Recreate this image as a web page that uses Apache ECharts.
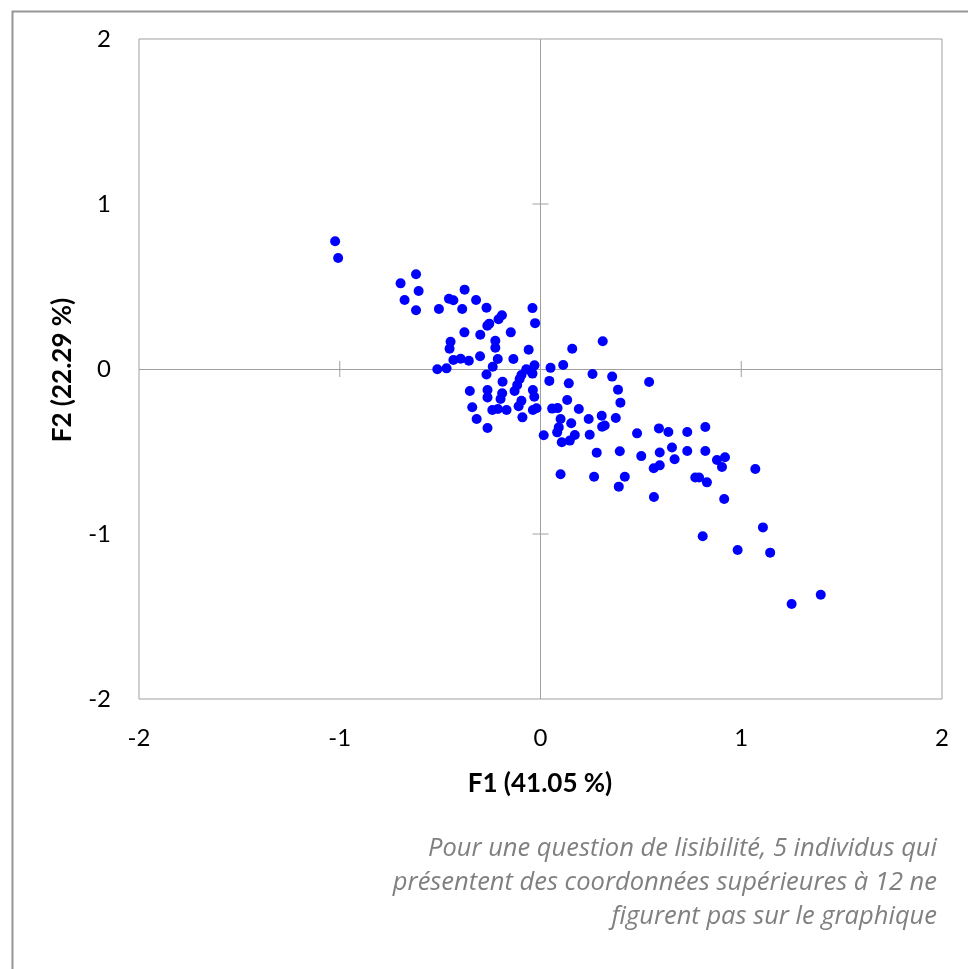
<!DOCTYPE html>
<html>
<head>
<meta charset="utf-8">
<script src="https://cdn.jsdelivr.net/npm/echarts@6/dist/echarts.min.js"></script>
<style>
html,body{margin:0;padding:0;background:#fff;}
#chart{width:968px;height:969px;}
</style>
</head>
<body>
<div id="chart"></div>
<script>
// F1 coordinates of the individuals
const f1 = [
  -1.023, -1.008, -0.697, -0.620, -0.607, -0.677, -0.620, -0.506, -0.378, -0.456,
  -0.434, -0.390, -0.321, -0.269, -0.192, -0.209, -0.255, -0.265, -0.040, -0.027,
  -0.379, -0.300, -0.148, -0.448, -0.453, -0.225, -0.225, -0.059, -0.301, -0.135,
  -0.213, -0.434, -0.398, -0.357, -0.514, -0.468, -0.238, -0.269, -0.030, -0.071,
  -0.040, -0.045, 0.050, 0.113, 0.158, 0.310,
  -0.352, -0.340, -0.318, -0.264, -0.264, -0.264, -0.240, -0.212, -0.189, -0.191,
  -0.199, -0.169, -0.129, -0.116, -0.104, -0.095, -0.109, -0.095, -0.090, -0.038,
  -0.031, -0.038, -0.020, 0.044, 0.016, 0.058, 0.085, 0.100, 0.091, 0.083,
  0.106, 0.146, 0.141, 0.259, 0.357, 0.541, 0.386, 0.398, 0.133, 0.191,
  0.240, 0.305, 0.375, 0.153, 0.307, 0.320, 0.171, 0.245, 0.481, 0.590,
  0.637, 0.655, 0.668, 0.594, 0.502, 0.395, 0.280, 0.564, 0.594, 0.100,
  0.267, 0.420, 0.731, 0.821, 0.731, 0.821, 0.879, 0.919, 0.904, 1.070,
  0.390, 0.771, 0.790, 0.829, 0.565, 0.915, 1.108, 0.808, 0.982, 1.144,
  1.396, 1.251
];
// F2 coordinates of the individuals
const f2 = [
  0.774, 0.673, 0.519, 0.574, 0.473, 0.418, 0.356, 0.364, 0.481, 0.426,
  0.417, 0.364, 0.418, 0.371, 0.326, 0.301, 0.275, 0.262, 0.369, 0.278,
  0.222, 0.208, 0.222, 0.165, 0.123, 0.171, 0.129, 0.117, 0.077, 0.061,
  0.061, 0.055, 0.062, 0.050, -0.002, 0.004, 0.014, -0.033, 0.022, -0.002,
  -0.028, -0.016, 0.007, 0.024, 0.123, 0.168,
  -0.133, -0.232, -0.303, -0.358, -0.127, -0.172, -0.248, -0.242, -0.077, -0.147,
  -0.182, -0.248, -0.133, -0.097, -0.061, -0.036, -0.226, -0.192, -0.293, -0.127,
  -0.168, -0.248, -0.238, -0.072, -0.402, -0.240, -0.237, -0.303, -0.354, -0.384,
  -0.444, -0.434, -0.087, -0.030, -0.046, -0.079, -0.125, -0.204, -0.188, -0.242,
  -0.303, -0.283, -0.297, -0.329, -0.350, -0.342, -0.400, -0.398, -0.390, -0.360,
  -0.382, -0.476, -0.547, -0.506, -0.528, -0.498, -0.507, -0.602, -0.584, -0.638,
  -0.653, -0.653, -0.382, -0.352, -0.497, -0.497, -0.552, -0.535, -0.594, -0.606,
  -0.713, -0.658, -0.658, -0.687, -0.776, -0.788, -0.960, -1.014, -1.097, -1.113,
  -1.368, -1.424
];
const axisTicks = [-2, -1, 0, 1, 2];
const xTitle = 'F1 (41.05 %)';
const yTitle = 'F2 (22.29 %)';
const note = ['Pour une question de lisibilité, 5 individus qui',
              'présentent des coordonnées supérieures à 12 ne',
              'figurent pas sur le graphique'];

const points = f1.map((v, i) => [v, f2[i]]);
const FONT = 'Lato, "Open Sans", sans-serif';
const axisMin = axisTicks[0], axisMax = axisTicks[axisTicks.length - 1];
const step = axisTicks[1] - axisTicks[0];
const innerTicks = axisTicks.filter(v => v !== 0 && v !== axisMin && v !== axisMax);
// tick crosses on the zero axes: [value, dimension]
const tickMarks = [];
innerTicks.forEach(v => { tickMarks.push([v, 0]); tickMarks.push([v, 1]); });

const GREY = '#a0a0a0';

function labelAxis(dim) {
  return {
    type: 'value', min: axisMin, max: axisMax, interval: step,
    position: dim === 'x' ? 'bottom' : 'left',
    axisLine: { show: false, onZero: false },
    axisTick: { show: false },
    splitLine: { show: false },
    axisLabel: { fontFamily: FONT, fontSize: 24, color: '#000', margin: dim === 'x' ? 27 : 28 }
  };
}

const chart = echarts.init(document.getElementById('chart'), null, { renderer: 'canvas' });
chart.setOption({
  animation: false,
  backgroundColor: '#fff',
  grid: { left: 139, right: 26, top: 39, bottom: 270, show: true, borderColor: GREY, borderWidth: 1, containLabel: false },
  xAxis: [labelAxis('x')],
  yAxis: [labelAxis('y')],
  series: [
    {
      type: 'scatter',
      data: points,
      symbol: 'circle',
      symbolSize: 10,
      itemStyle: { color: '#0000ff', opacity: 1 },
      z: 5,
      markLine: {
        silent: true, symbol: 'none', label: { show: false },
        lineStyle: { color: GREY, width: 1, type: 'solid' },
        data: [{ xAxis: 0 }, { yAxis: 0 }],
        z: 1
      }
    },
    {
      type: 'custom',
      data: tickMarks,
      silent: true,
      z: 2,
      renderItem: function (params, api) {
        const v = api.value(0), d = api.value(1);
        const p = d === 0 ? api.coord([v, 0]) : api.coord([0, v]);
        const L = 8;
        const shape = d === 0
          ? { x1: p[0], y1: p[1] - L, x2: p[0], y2: p[1] + L }
          : { x1: p[0] - L, y1: p[1], x2: p[0] + L, y2: p[1] };
        return { type: 'line', shape: shape, style: { stroke: GREY, lineWidth: 1 } };
      }
    }
  ],
  graphic: [
    { type: 'rect', left: 10, top: 9, shape: { width: 980, height: 980 },
      style: { fill: 'none', stroke: '#959595', lineWidth: 2 }, silent: true, z: -1 },
    { type: 'text', x: 540, y: 784,
      style: { text: xTitle, font: 'bold 26px ' + FONT, fill: '#000', textAlign: 'center', textVerticalAlign: 'middle' } },
    { type: 'text', x: 63, y: 370, rotation: Math.PI / 2,
      style: { text: yTitle, font: 'bold 26px ' + FONT, fill: '#000', textAlign: 'center', textVerticalAlign: 'middle' } },
    { type: 'text', x: 937, y: 883,
      style: { text: note.join('\n'), font: 'italic 25.5px "Open Sans", Lato, sans-serif', fill: '#808080', textAlign: 'right', textVerticalAlign: 'middle', lineHeight: 34 } }
  ]
});
</script>
</body>
</html>
